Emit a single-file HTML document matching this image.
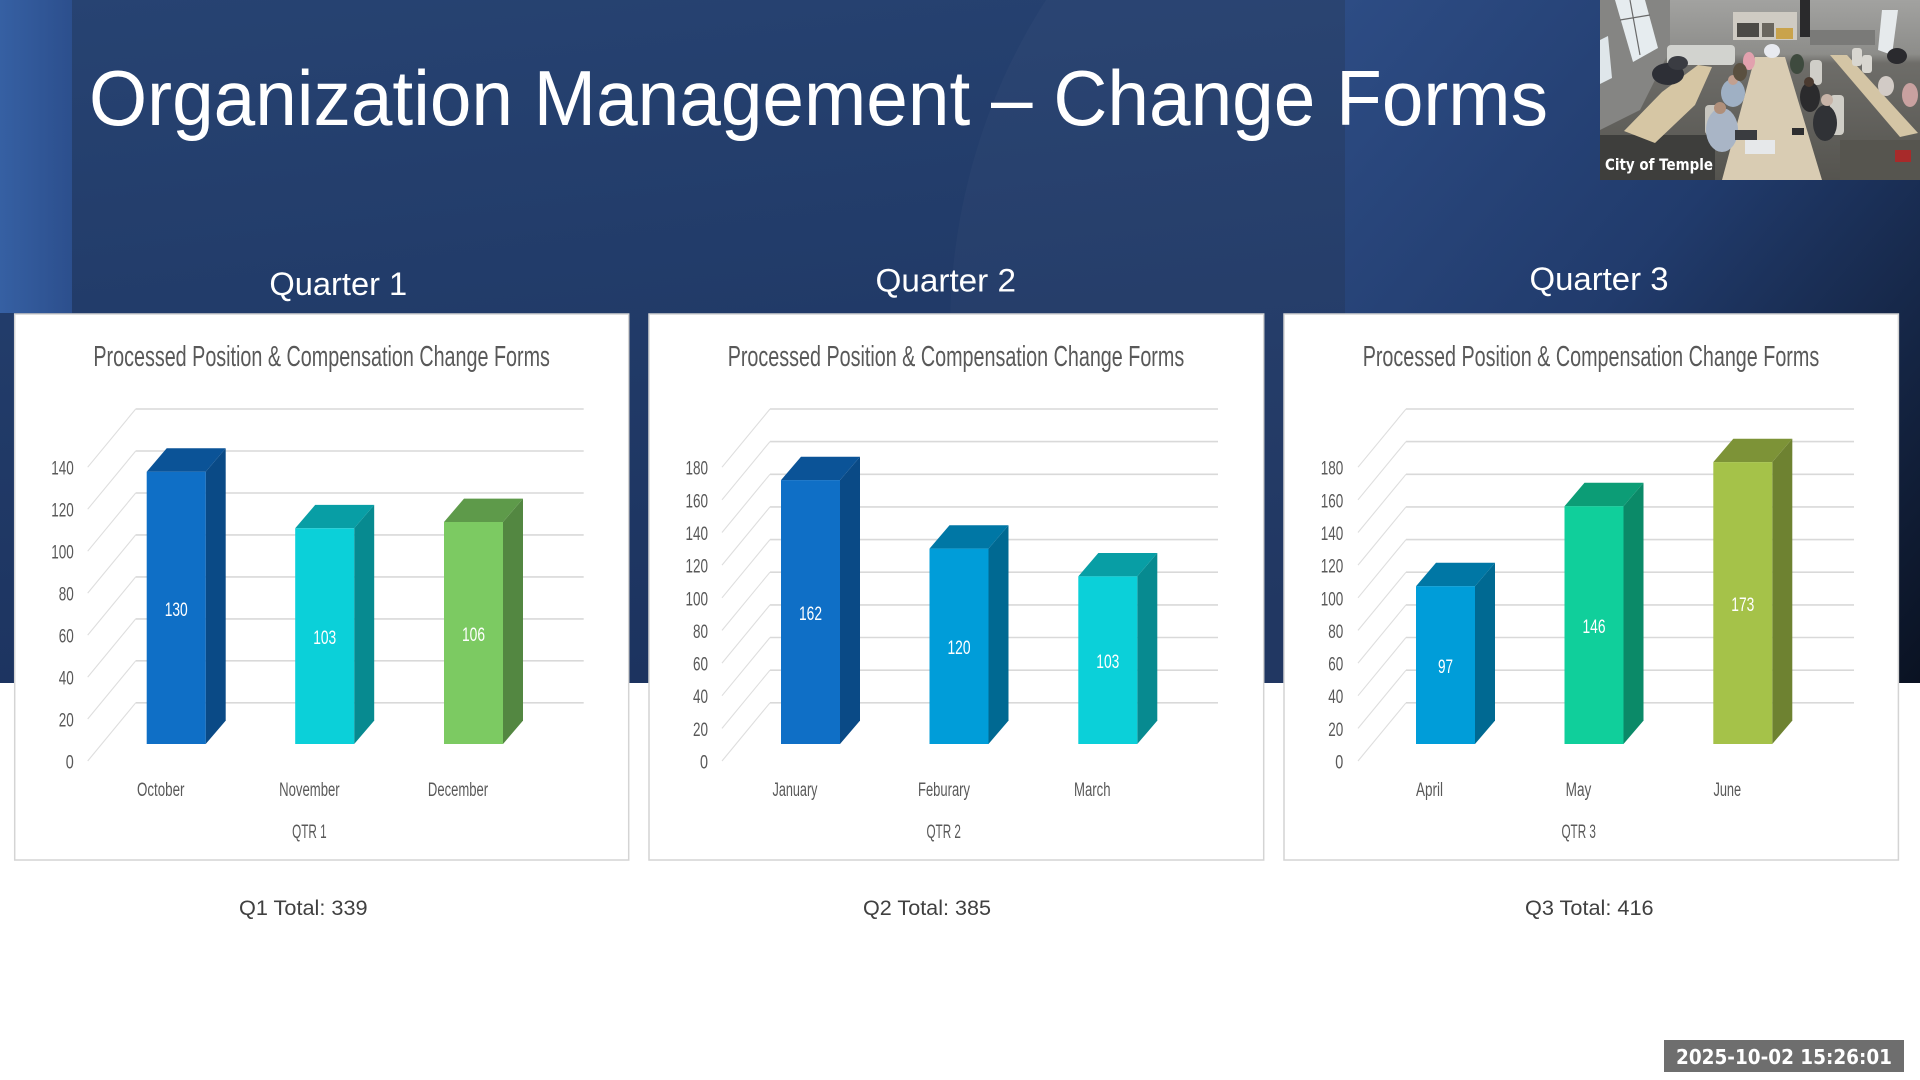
<!DOCTYPE html>
<html>
<head>
<meta charset="utf-8">
<style>
html,body{margin:0;padding:0;width:1920px;height:1080px;overflow:hidden;background:#ffffff}
svg{display:block}
</style>
</head>
<body>
<svg width="1920" height="1080" viewBox="0 0 1920 1080" xmlns="http://www.w3.org/2000/svg" font-family="'Liberation Sans', sans-serif">
<defs>
  <linearGradient id="bgMain" x1="0" y1="0" x2="0.3" y2="1">
    <stop offset="0" stop-color="#274372"/>
    <stop offset="1" stop-color="#1c335f"/>
  </linearGradient>
  <linearGradient id="bgRight" x1="0" y1="0" x2="1" y2="1">
    <stop offset="0" stop-color="#2d4c84"/>
    <stop offset="0.45" stop-color="#213b6c"/>
    <stop offset="1" stop-color="#0a1222"/>
  </linearGradient>
  <linearGradient id="stripe" x1="0" y1="0" x2="1" y2="0">
    <stop offset="0" stop-color="#3660a3"/>
    <stop offset="1" stop-color="#2c4f8d"/>
  </linearGradient>
  <linearGradient id="camWall" x1="0" y1="0" x2="0" y2="1">
    <stop offset="0" stop-color="#a2a2a0"/>
    <stop offset="0.3" stop-color="#8d8d8a"/>
    <stop offset="0.35" stop-color="#6e6d69"/>
    <stop offset="1" stop-color="#55544f"/>
  </linearGradient>
  <clipPath id="camClip"><rect x="0" y="0" width="320" height="180"/></clipPath>
</defs>

<!-- background -->
<rect x="0" y="0" width="1920" height="683" fill="url(#bgMain)"/>
<ellipse cx="1450" cy="330" rx="500" ry="560" fill="#ffffff" fill-opacity="0.025"/>
<rect x="1345" y="0" width="575" height="683" fill="url(#bgRight)"/>
<rect x="0" y="0" width="72" height="313" fill="url(#stripe)"/>
<rect x="0" y="683" width="1920" height="397" fill="#ffffff"/>

<!-- title -->
<text x="89" y="125" font-size="78" fill="#ffffff" textLength="1459" lengthAdjust="spacingAndGlyphs">Organization Management – Change Forms</text>

<!-- quarter headings -->
<text x="269.4" y="295" font-size="32" fill="#ffffff" textLength="137.8" lengthAdjust="spacingAndGlyphs">Quarter 1</text>
<text x="875.5" y="291.7" font-size="32" fill="#ffffff" textLength="140.5" lengthAdjust="spacingAndGlyphs">Quarter 2</text>
<text x="1529.5" y="290" font-size="32" fill="#ffffff" textLength="139" lengthAdjust="spacingAndGlyphs">Quarter 3</text>

<!-- ============ CHART 1 ============ -->
<g transform="translate(14.7,0)">
  <rect x="0" y="314" width="614" height="546" fill="#ffffff" stroke="#d4d4d4" stroke-width="1.5"/>
  <text x="78.7" y="366" font-size="28.5" fill="#595959" textLength="456.5" lengthAdjust="spacingAndGlyphs">Processed Position &amp; Compensation Change Forms</text>
  <g stroke="#d9d9d9" stroke-width="1.6" fill="none">
    <path d="M121 702.8H569M121 660.8H569M121 618.9H569M121 576.9H569M121 534.9H569M121 493H569M121 451H569M121 409H569"/>
  </g>
  <g stroke="#dedede" stroke-width="1.1" fill="none">
    <path d="M121 702.8L73 761M121 660.8L73 719M121 618.9L73 677.1M121 576.9L73 635.1M121 534.9L73 593.1M121 493L73 551.2M121 451L73 509.2M121 409L73 467.2"/>
  </g>
  <g font-size="19" fill="#595959" text-anchor="end">
    <text x="59" y="768.5" textLength="8" lengthAdjust="spacingAndGlyphs">0</text>
    <text x="59" y="726.5" textLength="15" lengthAdjust="spacingAndGlyphs">20</text>
    <text x="59" y="684.6" textLength="15" lengthAdjust="spacingAndGlyphs">40</text>
    <text x="59" y="642.6" textLength="15" lengthAdjust="spacingAndGlyphs">60</text>
    <text x="59" y="600.6" textLength="15" lengthAdjust="spacingAndGlyphs">80</text>
    <text x="59" y="558.7" textLength="22.5" lengthAdjust="spacingAndGlyphs">100</text>
    <text x="59" y="516.7" textLength="22.5" lengthAdjust="spacingAndGlyphs">120</text>
    <text x="59" y="474.7" textLength="22.5" lengthAdjust="spacingAndGlyphs">140</text>
  </g>
  <!-- Oct -->
  <polygon points="191,471.7 211,448.3 211,720.6 191,744" fill="#0a4a86"/>
  <polygon points="132,471.7 191,471.7 211,448.3 152,448.3" fill="#0b5397"/>
  <rect x="132" y="471.7" width="59" height="272.3" fill="#0f6fc6"/>
  <!-- Nov -->
  <polygon points="339.5,528.3 359.5,504.9 359.5,720.6 339.5,744" fill="#078a90"/>
  <polygon points="280.5,528.3 339.5,528.3 359.5,504.9 300.5,504.9" fill="#089ea5"/>
  <rect x="280.5" y="528.3" width="59" height="215.7" fill="#0bd0d9"/>
  <!-- Dec -->
  <polygon points="488.3,522 508.3,498.6 508.3,720.6 488.3,744" fill="#538741"/>
  <polygon points="429.3,522 488.3,522 508.3,498.6 449.3,498.6" fill="#5e9a4a"/>
  <rect x="429.3" y="522" width="59" height="222" fill="#7cca62"/>
  <g font-size="19" fill="#ffffff" text-anchor="middle">
    <text x="161.5" y="616" textLength="23" lengthAdjust="spacingAndGlyphs">130</text>
    <text x="310" y="644" textLength="23" lengthAdjust="spacingAndGlyphs">103</text>
    <text x="458.8" y="641" textLength="23" lengthAdjust="spacingAndGlyphs">106</text>
  </g>
  <g font-size="19" fill="#595959" text-anchor="middle">
    <text x="146" y="796" textLength="47.5" lengthAdjust="spacingAndGlyphs">October</text>
    <text x="294.7" y="796" textLength="60.6" lengthAdjust="spacingAndGlyphs">November</text>
    <text x="443.3" y="796" textLength="60.2" lengthAdjust="spacingAndGlyphs">December</text>
    <text x="294.7" y="838" textLength="34.5" lengthAdjust="spacingAndGlyphs">QTR 1</text>
  </g>
</g>

<!-- ============ CHART 2 ============ -->
<g transform="translate(649,0)">
  <rect x="0" y="314" width="614.7" height="546" fill="#ffffff" stroke="#d4d4d4" stroke-width="1.5"/>
  <text x="78.7" y="366" font-size="28.5" fill="#595959" textLength="456.5" lengthAdjust="spacingAndGlyphs">Processed Position &amp; Compensation Change Forms</text>
  <g stroke="#d9d9d9" stroke-width="1.6" fill="none">
    <path d="M121 702.8H569M121 670.2H569M121 637.5H569M121 604.9H569M121 572.2H569M121 539.6H569M121 506.9H569M121 474.3H569M121 441.6H569M121 409H569"/>
  </g>
  <g stroke="#dedede" stroke-width="1.1" fill="none">
    <path d="M121 702.8L73 761M121 670.2L73 728.4M121 637.5L73 695.7M121 604.9L73 663.1M121 572.2L73 630.4M121 539.6L73 597.8M121 506.9L73 565.1M121 474.3L73 532.5M121 441.6L73 499.8M121 409L73 467.2"/>
  </g>
  <g font-size="19" fill="#595959" text-anchor="end">
    <text x="59" y="768.5" textLength="8" lengthAdjust="spacingAndGlyphs">0</text>
    <text x="59" y="735.9" textLength="15" lengthAdjust="spacingAndGlyphs">20</text>
    <text x="59" y="703.2" textLength="15" lengthAdjust="spacingAndGlyphs">40</text>
    <text x="59" y="670.6" textLength="15" lengthAdjust="spacingAndGlyphs">60</text>
    <text x="59" y="637.9" textLength="15" lengthAdjust="spacingAndGlyphs">80</text>
    <text x="59" y="605.3" textLength="22.5" lengthAdjust="spacingAndGlyphs">100</text>
    <text x="59" y="572.6" textLength="22.5" lengthAdjust="spacingAndGlyphs">120</text>
    <text x="59" y="540" textLength="22.5" lengthAdjust="spacingAndGlyphs">140</text>
    <text x="59" y="507.3" textLength="22.5" lengthAdjust="spacingAndGlyphs">160</text>
    <text x="59" y="474.7" textLength="22.5" lengthAdjust="spacingAndGlyphs">180</text>
  </g>
  <!-- Jan -->
  <polygon points="191,480.1 211,456.7 211,720.6 191,744" fill="#0a4a86"/>
  <polygon points="132,480.1 191,480.1 211,456.7 152,456.7" fill="#0b5397"/>
  <rect x="132" y="480.1" width="59" height="263.9" fill="#0f6fc6"/>
  <!-- Feb -->
  <polygon points="339.5,548.6 359.5,525.2 359.5,720.6 339.5,744" fill="#006992"/>
  <polygon points="280.5,548.6 339.5,548.6 359.5,525.2 300.5,525.2" fill="#0077a5"/>
  <rect x="280.5" y="548.6" width="59" height="195.4" fill="#009dd9"/>
  <!-- Mar -->
  <polygon points="488.3,576.4 508.3,553 508.3,720.6 488.3,744" fill="#078a90"/>
  <polygon points="429.3,576.4 488.3,576.4 508.3,553 449.3,553" fill="#089ea5"/>
  <rect x="429.3" y="576.4" width="59" height="167.6" fill="#0bd0d9"/>
  <g font-size="19" fill="#ffffff" text-anchor="middle">
    <text x="161.5" y="620" textLength="23" lengthAdjust="spacingAndGlyphs">162</text>
    <text x="310" y="654" textLength="23" lengthAdjust="spacingAndGlyphs">120</text>
    <text x="458.8" y="668" textLength="23" lengthAdjust="spacingAndGlyphs">103</text>
  </g>
  <g font-size="19" fill="#595959" text-anchor="middle">
    <text x="146" y="796" textLength="45" lengthAdjust="spacingAndGlyphs">January</text>
    <text x="295" y="796" textLength="52" lengthAdjust="spacingAndGlyphs">Feburary</text>
    <text x="443.3" y="796" textLength="36.6" lengthAdjust="spacingAndGlyphs">March</text>
    <text x="294.7" y="838" textLength="34.5" lengthAdjust="spacingAndGlyphs">QTR 2</text>
  </g>
</g>

<!-- ============ CHART 3 ============ -->
<g transform="translate(1284,0)">
  <rect x="0" y="314" width="614.4" height="546" fill="#ffffff" stroke="#d4d4d4" stroke-width="1.5"/>
  <text x="78.7" y="366" font-size="28.5" fill="#595959" textLength="456.5" lengthAdjust="spacingAndGlyphs">Processed Position &amp; Compensation Change Forms</text>
  <g stroke="#d9d9d9" stroke-width="1.6" fill="none">
    <path d="M122 702.8H570M122 670.2H570M122 637.5H570M122 604.9H570M122 572.2H570M122 539.6H570M122 506.9H570M122 474.3H570M122 441.6H570M122 409H570"/>
  </g>
  <g stroke="#dedede" stroke-width="1.1" fill="none">
    <path d="M122 702.8L74 761M122 670.2L74 728.4M122 637.5L74 695.7M122 604.9L74 663.1M122 572.2L74 630.4M122 539.6L74 597.8M122 506.9L74 565.1M122 474.3L74 532.5M122 441.6L74 499.8M122 409L74 467.2"/>
  </g>
  <g font-size="19" fill="#595959" text-anchor="end">
    <text x="59.3" y="768.5" textLength="8" lengthAdjust="spacingAndGlyphs">0</text>
    <text x="59.3" y="735.9" textLength="15" lengthAdjust="spacingAndGlyphs">20</text>
    <text x="59.3" y="703.2" textLength="15" lengthAdjust="spacingAndGlyphs">40</text>
    <text x="59.3" y="670.6" textLength="15" lengthAdjust="spacingAndGlyphs">60</text>
    <text x="59.3" y="637.9" textLength="15" lengthAdjust="spacingAndGlyphs">80</text>
    <text x="59.3" y="605.3" textLength="22.5" lengthAdjust="spacingAndGlyphs">100</text>
    <text x="59.3" y="572.6" textLength="22.5" lengthAdjust="spacingAndGlyphs">120</text>
    <text x="59.3" y="540" textLength="22.5" lengthAdjust="spacingAndGlyphs">140</text>
    <text x="59.3" y="507.3" textLength="22.5" lengthAdjust="spacingAndGlyphs">160</text>
    <text x="59.3" y="474.7" textLength="22.5" lengthAdjust="spacingAndGlyphs">180</text>
  </g>
  <!-- Apr -->
  <polygon points="191,586.2 211,562.8 211,720.6 191,744" fill="#006992"/>
  <polygon points="132,586.2 191,586.2 211,562.8 152,562.8" fill="#0077a5"/>
  <rect x="132" y="586.2" width="59" height="157.8" fill="#009dd9"/>
  <!-- May -->
  <polygon points="339.5,506.2 359.5,482.8 359.5,720.6 339.5,744" fill="#0b8a68"/>
  <polygon points="280.5,506.2 339.5,506.2 359.5,482.8 300.5,482.8" fill="#0c9d76"/>
  <rect x="280.5" y="506.2" width="59" height="237.8" fill="#10cf9b"/>
  <!-- Jun -->
  <polygon points="488.3,462.1 508.3,438.7 508.3,720.6 488.3,744" fill="#6e8231"/>
  <polygon points="429.3,462.1 488.3,462.1 508.3,438.7 449.3,438.7" fill="#7d9337"/>
  <rect x="429.3" y="462.1" width="59" height="281.9" fill="#a5c249"/>
  <g font-size="19" fill="#ffffff" text-anchor="middle">
    <text x="161.5" y="673" textLength="15" lengthAdjust="spacingAndGlyphs">97</text>
    <text x="310" y="633" textLength="23" lengthAdjust="spacingAndGlyphs">146</text>
    <text x="458.8" y="611" textLength="23" lengthAdjust="spacingAndGlyphs">173</text>
  </g>
  <g font-size="19" fill="#595959" text-anchor="middle">
    <text x="145.5" y="796" textLength="27" lengthAdjust="spacingAndGlyphs">April</text>
    <text x="294.5" y="796" textLength="25.7" lengthAdjust="spacingAndGlyphs">May</text>
    <text x="443.3" y="796" textLength="27.7" lengthAdjust="spacingAndGlyphs">June</text>
    <text x="294.7" y="838" textLength="34.5" lengthAdjust="spacingAndGlyphs">QTR 3</text>
  </g>
</g>

<!-- totals -->
<g font-size="21" fill="#404040">
  <text x="239" y="915" textLength="128.6" lengthAdjust="spacingAndGlyphs">Q1 Total: 339</text>
  <text x="863" y="915" textLength="128" lengthAdjust="spacingAndGlyphs">Q2 Total: 385</text>
  <text x="1525" y="915" textLength="128.6" lengthAdjust="spacingAndGlyphs">Q3 Total: 416</text>
</g>

<!-- timestamp -->
<rect x="1664" y="1040" width="240" height="32" fill="#6e6e6e"/>
<text x="1676" y="1064" font-family="'DejaVu Sans', sans-serif" font-weight="bold" font-size="20" fill="#ffffff" textLength="216" lengthAdjust="spacingAndGlyphs">2025-10-02 15:26:01</text>

<!-- webcam -->
<g transform="translate(1600,0)" clip-path="url(#camClip)">
  <rect x="0" y="0" width="320" height="180" fill="url(#camWall)"/>
  <!-- left wall -->
  <polygon points="0,0 70,0 70,50 40,110 0,130" fill="#858583"/>
  <polygon points="15,0 45,0 58,48 33,62" fill="#e6ecef"/>
  <path d="M30 0L40 55M20 20L50 15" stroke="#6a6a6a" stroke-width="1.2"/>
  <polygon points="0,40 8,36 12,78 0,84" fill="#dfe6ea"/>
  <!-- back wall features -->
  <rect x="133" y="12" width="64" height="28" fill="#cfcbc3"/>
  <rect x="137" y="23" width="22" height="14" fill="#4c4a46"/>
  <rect x="162" y="23" width="12" height="14" fill="#6a665e"/>
  <rect x="176" y="28" width="17" height="11" fill="#c9a34c"/>
  <rect x="200" y="0" width="10" height="37" fill="#2a2a2c"/>
  <rect x="210" y="30" width="65" height="15" fill="#7a7a78"/>
  <polygon points="282,10 298,10 292,55 278,50" fill="#e6eaec"/>
  <!-- couch -->
  <rect x="67" y="45" width="68" height="20" rx="4" fill="#d2d3cf"/>
  <!-- floor dark areas -->
  <rect x="0" y="135" width="115" height="45" fill="#3e3e3c"/>
  <rect x="240" y="140" width="80" height="40" fill="#56554f"/>
  <!-- tables -->
  <polygon points="98,65 112,67 95,105 55,143 24,131 62,92" fill="#d6c6a4"/>
  <polygon points="155,57 185,57 222,180 122,180" fill="#d9ccb3"/>
  <polygon points="230,55 247,55 318,133 300,137" fill="#d4c5a5"/>
  <!-- chairs -->
  <rect x="252" y="48" width="10" height="18" rx="3" fill="#d8d6d0"/>
  <rect x="262" y="55" width="10" height="18" rx="3" fill="#d8d6d0"/>
  <rect x="230" y="95" width="14" height="40" rx="4" fill="#cfcdc6"/>
  <rect x="105" y="105" width="14" height="30" rx="4" fill="#c8c6bf"/>
  <rect x="210" y="60" width="12" height="25" rx="4" fill="#d0cec8"/>
  <!-- people -->
  <ellipse cx="122" cy="130" rx="16" ry="22" fill="#a9b5c6"/>
  <circle cx="120" cy="108" r="6" fill="#b08f7a"/>
  <ellipse cx="133" cy="93" rx="12" ry="14" fill="#9fb0c4"/>
  <circle cx="133" cy="80" r="5" fill="#c2a090"/>
  <ellipse cx="210" cy="97" rx="10" ry="15" fill="#2b2b2d"/>
  <circle cx="209" cy="82" r="5" fill="#4a3a30"/>
  <ellipse cx="225" cy="123" rx="12" ry="18" fill="#303236"/>
  <circle cx="227" cy="100" r="6" fill="#c8b4a8"/>
  <ellipse cx="149" cy="61" rx="6" ry="9" fill="#e2a1ae"/>
  <ellipse cx="172" cy="51" rx="8" ry="7" fill="#e8eaf0"/>
  <ellipse cx="197" cy="64" rx="7" ry="10" fill="#3e4a3e"/>
  <ellipse cx="140" cy="72" rx="7" ry="9" fill="#5a5040"/>
  <ellipse cx="297" cy="56" rx="10" ry="8" fill="#2a2a2e"/>
  <ellipse cx="286" cy="86" rx="8" ry="10" fill="#d2cbc6"/>
  <ellipse cx="310" cy="95" rx="8" ry="12" fill="#c9a1a0"/>
  <ellipse cx="68" cy="74" rx="16" ry="11" fill="#2d2f36"/>
  <ellipse cx="78" cy="63" rx="10" ry="7" fill="#3a3c42"/>
  <rect x="135" y="130" width="22" height="10" fill="#3a3c40"/>
  <rect x="145" y="140" width="30" height="14" fill="#e6e8ea"/>
  <rect x="192" y="128" width="12" height="7" fill="#2e2e30"/>
  <rect x="295" y="150" width="16" height="12" fill="#a82a2a"/>
  <text x="5" y="170" font-family="'DejaVu Sans', sans-serif" font-weight="bold" font-size="16" fill="#ffffff" textLength="108" lengthAdjust="spacingAndGlyphs">City of Temple</text>
</g>
</svg>
</body>
</html>
